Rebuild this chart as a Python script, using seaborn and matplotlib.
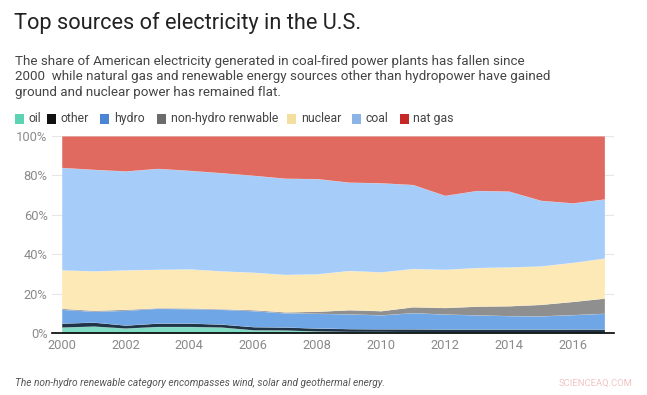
import numpy as np
import pandas as pd
import seaborn as sns
import matplotlib.pyplot as plt
from matplotlib.patches import Rectangle

years = list(range(2000, 2018))
sources = ["oil", "other", "hydro", "non-hydro renwable", "nuclear", "coal", "nat gas"]

# cumulative top edge (%) of each layer
oil_top = [3.0, 3.5, 2.5, 3.3, 3.3, 3.0, 1.6, 1.5, 1.0, 0.8, 0.8, 0.7, 0.6, 0.6, 0.6, 0.6, 0.5, 0.5]
other_top = [5.0, 5.5, 4.0, 5.0, 5.0, 4.5, 3.2, 3.0, 2.5, 2.2, 2.1, 2.1, 2.0, 2.0, 2.0, 2.0, 2.0, 2.0]
hydro_top = [12.0, 11.0, 11.5, 12.5, 12.3, 12.0, 11.3, 10.2, 10.0, 9.7, 9.2, 10.3, 9.6, 9.2, 8.8, 8.7, 9.3, 10.0]
nonhydro_top = [12.5, 11.5, 12.0, 12.8, 12.7, 12.3, 11.8, 10.7, 11.0, 11.8, 11.3, 13.3, 12.9, 13.6, 13.8, 14.5, 16.0, 17.7]
nuclear_top = [32.0, 31.5, 32.0, 32.3, 32.5, 31.5, 30.8, 29.7, 30.0, 31.7, 31.0, 32.7, 32.3, 33.2, 33.5, 34.0, 35.8, 38.0]
coal_top = [84.0, 83.0, 82.2, 83.5, 82.5, 81.3, 80.0, 78.5, 78.3, 76.5, 76.2, 75.3, 69.8, 72.3, 72.0, 67.3, 66.0, 68.0]
natgas_top = [100.0] * 18

tops = [oil_top, other_top, hydro_top, nonhydro_top, nuclear_top, coal_top, natgas_top]
df = pd.DataFrame({"year": years})
prev = np.zeros(len(years))
for name, top in zip(sources, tops):
    df[name] = np.array(top) - prev
    prev = np.array(top)

area_colors = ["#7fdcc3", "#1f3447", "#6fa6e6", "#8f8f8f", "#fde9b6", "#a6cdfa", "#e06a60"]
legend_colors = ["#5dd3b3", "#111111", "#4a86d4", "#6b6b6b", "#f5df9f", "#8bb5e6", "#c62828"]

sns.set_theme(style="white")
plt.rcParams["font.family"] = ["Roboto", "DejaVu Sans"]

fig = plt.figure(figsize=(6.47, 3.95), dpi=100)
ax = fig.add_axes([0.080, 0.157, 0.869, 0.499])

ax.stackplot(df["year"], *[df[s] for s in sources], colors=area_colors, linewidth=0.3,
             edgecolor="#ffffff40")

ax.set_xlim(1999.69, 2017.3)
ax.set_ylim(0, 100)
ax.set_yticks([0, 20, 40, 60, 80, 100])
ax.set_yticklabels([f"{v}%" for v in [0, 20, 40, 60, 80, 100]])
ax.set_xticks(range(2000, 2017, 2))
ax.yaxis.grid(True, color="#e6e6e6", linewidth=0.8)
ax.set_axisbelow(True)
for side in ["left", "right", "top"]:
    ax.spines[side].set_visible(False)
ax.spines["bottom"].set_color("black")
ax.spines["bottom"].set_linewidth(1.2)
ax.tick_params(axis="both", colors="#8a8a8a", labelsize=9.3, length=0, pad=3)
ax.tick_params(axis="x", pad=4)
ax.set_xlabel("")
ax.set_ylabel("")

fig.text(0.021, 0.942, "Top sources of electricity in the U.S.", fontsize=15.7, color="#222222",
         va="center", ha="left")
fig.text(0.023, 0.862,
         "The share of American electricity generated in coal-fired power plants has fallen since\n"
         "2000  while natural gas and renewable energy sources other than hydropower have gained\n"
         "ground and nuclear power has remained flat.",
         fontsize=9.6, color="#444444", va="top", ha="left", linespacing=1.25)

# legend row
leg_x = [0.023, 0.073, 0.155, 0.243, 0.444, 0.544, 0.618]
for x, name, c in zip(leg_x, sources, legend_colors):
    fig.patches.append(Rectangle((x, 0.687), 0.014, 0.024, transform=fig.transFigure,
                                 facecolor=c, edgecolor="none"))
    fig.text(x + 0.021, 0.699, name, fontsize=8.8, color="#444444", va="center", ha="left")

fig.text(0.023, 0.030, "The non-hydro renewable category encompasses wind, solar and geothermal energy.",
         fontsize=7.3, color="#555555", style="italic", va="center", ha="left")
fig.text(0.978, 0.030, "SCIENCEAQ.COM", fontsize=6.8, color="#f2c4c4", va="center", ha="right")

fig.savefig("out.png", dpi=100)
plt.close()
